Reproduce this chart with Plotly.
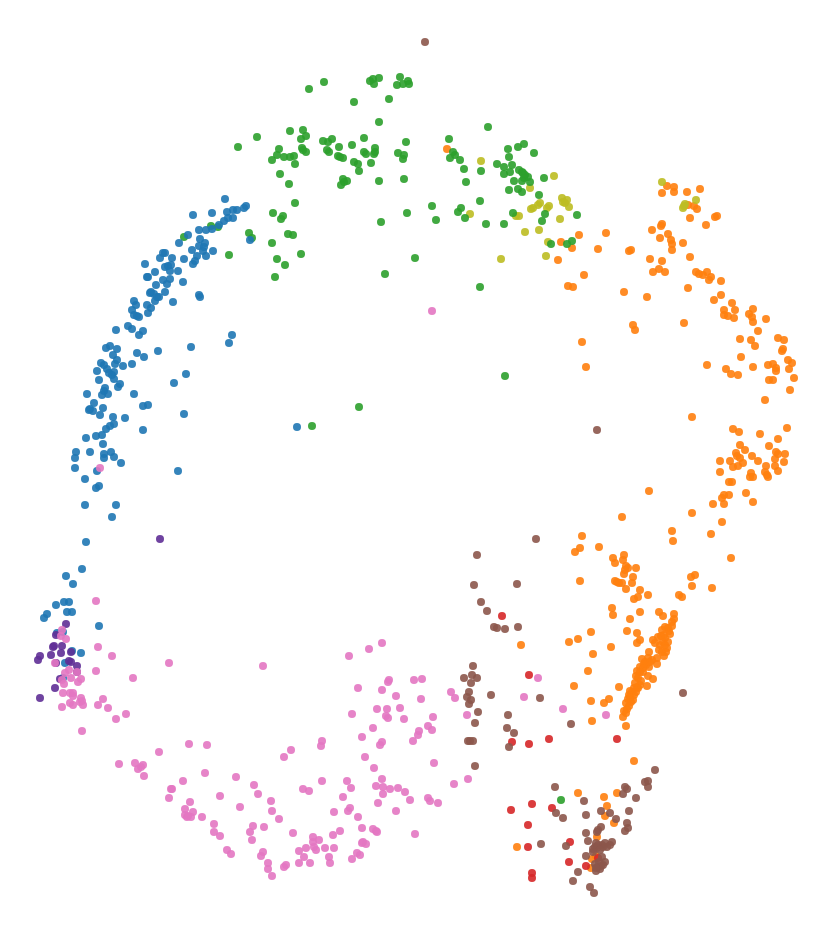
import plotly.graph_objects as go

# embedding values per cluster as (x, y)
blue = [(225,199),(193,215),(212,213),(246,206),(244,208),(237,210),(233,210),(227,212),(233,218),(228,218),(224,221),(219,225),(212,229),(206,230),(199,230),(188,235),(250,240),(200,239),(179,243),(205,243),(199,246),(204,247),(192,250),(203,251),(213,251),(206,256),(197,256),(163,253),(165,253),(160,258),(172,258),(184,259),(195,261),(193,264),(145,264),(165,267),(168,266),(171,265),(170,271),(178,271),(155,272),(147,277),(148,277),(163,280),(170,279),(167,284),(183,282),(156,285),(165,292),(151,292),(150,293),(154,294),(157,297),(159,297),(155,301),(173,302),(199,295),(200,297),(134,301),(136,305),(147,305),(151,308),(132,310),(148,313),(134,315),(137,316),(139,317),(116,330),(128,326),(132,329),(143,331),(139,335),(232,335),(229,343),(191,347),(110,346),(106,348),(117,349),(137,353),(144,357),(158,351),(113,355),(117,360),(115,364),(101,363),(104,365),(132,364),(123,366),(97,371),(107,369),(109,373),(114,372),(112,375),(114,379),(99,380),(186,374),(174,383),(120,384),(118,387),(105,388),(104,391),(108,394),(102,395),(87,394),(134,394),(94,403),(103,408),(90,409),(93,411),(89,410),(100,415),(143,406),(148,405),(184,414),(113,417),(125,418),(114,424),(110,426),(106,429),(143,430),(86,438),(96,436),(102,435),(103,444),(76,452),(90,452),(75,458),(104,454),(111,452),(114,457),(104,458),(75,468),(97,471),(121,463),(178,471),(85,479),(99,486),(96,488),(85,505),(116,505),(112,517),(86,542),(82,569),(66,576),(73,584),(56,605),(64,602),(69,602),(67,612),(72,612),(47,614),(44,618),(99,626),(57,633),(63,632),(72,651),(81,653),(65,663),(63,678),(297,427)]

orange = [(447,149),(561,242),(579,235),(606,233),(572,248),(598,249),(629,251),(558,260),(584,275),(568,286),(573,287),(624,292),(667,186),(674,187),(674,192),(662,193),(687,192),(700,189),(688,205),(694,206),(697,209),(690,218),(717,216),(715,217),(706,225),(662,224),(661,226),(652,230),(668,234),(660,238),(671,240),(672,244),(683,243),(672,250),(631,250),(690,257),(650,259),(662,261),(659,269),(653,272),(665,272),(696,272),(699,274),(703,275),(707,272),(711,277),(709,280),(721,281),(688,288),(647,297),(721,295),(714,300),(732,303),(735,310),(724,310),(724,315),(728,316),(734,318),(753,309),(749,314),(752,317),(753,322),(766,319),(684,323),(633,325),(635,330),(758,331),(740,339),(751,340),(755,346),(778,338),(784,340),(783,349),(782,351),(741,357),(788,360),(792,363),(707,365),(753,367),(726,369),(731,374),(738,375),(768,365),(773,364),(776,368),(776,371),(789,369),(794,378),(769,380),(773,380),(790,390),(765,400),(692,417),(582,342),(586,367),(733,429),(739,432),(760,434),(787,428),(778,439),(769,446),(740,445),(745,450),(776,452),(778,454),(785,454),(736,453),(752,456),(737,456),(740,458),(730,461),(720,461),(758,461),(775,459),(784,462),(743,463),(733,467),(738,466),(766,466),(775,466),(778,471),(720,472),(765,472),(767,475),(768,477),(751,473),(753,477),(750,477),(729,482),(732,482),(649,491),(746,493),(729,495),(724,495),(722,498),(753,502),(724,504),(713,504),(692,513),(622,517),(722,522),(672,531),(711,534),(673,541),(582,536),(580,548),(575,552),(599,547),(731,558),(613,558),(624,555),(615,563),(623,560),(626,566),(628,568),(636,568),(625,570),(624,574),(695,575),(691,577),(633,577),(580,581),(615,581),(617,582),(619,583),(622,583),(632,583),(692,586),(626,589),(640,590),(712,588),(648,595),(679,595),(682,597),(638,597),(634,599),(612,608),(613,615),(640,612),(659,612),(663,616),(674,614),(674,619),(672,622),(630,619),(665,627),(668,628),(662,630),(627,631),(591,632),(637,633),(669,631),(640,640),(637,643),(578,639),(569,642),(653,640),(658,637),(664,635),(665,638),(663,642),(668,642),(660,645),(665,645),(667,648),(662,652),(666,652),(611,647),(649,652),(593,654),(657,658),(642,659),(648,658),(645,662),(657,664),(640,667),(649,667),(637,671),(643,672),(588,671),(648,676),(653,679),(638,678),(574,686),(619,687),(647,686),(640,685),(637,687),(634,688),(638,688),(632,692),(636,692),(634,695),(628,699),(633,700),(631,702),(609,699),(604,703),(591,701),(629,706),(627,709),(626,713),(623,717),(592,721),(626,726),(521,645),(634,761),(578,793),(604,797),(617,793),(607,806),(605,816),(614,823),(597,837),(517,847),(596,856),(592,859),(591,868),(672,626),(670,634),(661,636),(655,643),(659,650),(664,656),(652,660),(646,665),(643,668),(640,672),(636,676),(641,681),(635,683),(630,691),(629,695),(626,703),(624,711),(630,697),(644,664),(650,662)]

olive = [(481,161),(554,176),(530,188),(562,198),(567,200),(563,202),(565,203),(569,207),(540,203),(538,205),(549,206),(547,208),(533,208),(531,209),(470,214),(519,216),(516,216),(560,219),(539,230),(525,232),(548,242),(546,256),(501,259),(662,182),(696,200),(685,204),(683,208),(684,206)]

green = [(324,82),(309,89),(370,81),(373,79),(379,78),(374,84),(400,77),(408,81),(397,85),(403,84),(409,84),(389,99),(354,102),(379,122),(488,127),(290,131),(303,130),(306,136),(301,139),(257,137),(238,147),(323,141),(328,142),(332,139),(364,138),(406,142),(449,139),(339,147),(352,145),(279,149),(302,148),(277,155),(272,160),(284,157),(290,157),(294,156),(306,152),(303,150),(295,164),(327,150),(329,152),(338,156),(340,157),(343,158),(364,152),(366,154),(375,148),(375,152),(374,154),(398,153),(404,155),(403,159),(354,162),(358,164),(371,163),(453,152),(455,155),(450,158),(460,160),(359,171),(280,174),(289,184),(343,179),(347,181),(344,182),(341,185),(379,181),(404,179),(464,169),(481,171),(466,182),(295,203),(273,213),(283,216),(281,219),(249,233),(252,238),(288,234),(293,235),(272,243),(301,254),(277,259),(285,265),(275,277),(229,255),(432,206),(407,213),(381,222),(436,220),(480,201),(461,208),(458,212),(465,218),(486,224),(415,258),(385,274),(480,287),(211,226),(218,227),(184,237),(508,149),(518,147),(524,144),(534,153),(509,157),(497,164),(512,165),(504,167),(504,174),(510,172),(519,170),(522,172),(523,173),(525,175),(528,177),(524,178),(522,181),(530,182),(514,181),(544,178),(509,190),(518,189),(522,192),(539,195),(513,213),(545,214),(577,215),(542,221),(504,224),(551,244),(572,241),(567,244),(359,407),(505,376),(312,426),(561,800)]

red = [(502,616),(529,675),(512,742),(529,744),(549,739),(617,739),(532,804),(511,810),(552,808),(528,825),(528,847),(570,842),(569,862),(586,866),(532,873),(532,878),(598,858)]

brown = [(425,42),(597,430),(683,693),(536,539),(477,555),(474,585),(517,584),(481,602),(487,611),(494,627),(497,628),(505,629),(518,627),(473,666),(464,678),(472,675),(477,678),(471,683),(469,692),(467,697),(471,700),(469,704),(491,695),(478,712),(475,723),(540,698),(508,715),(507,728),(514,733),(509,747),(468,741),(470,741),(473,741),(475,766),(571,724),(655,770),(555,787),(625,787),(627,789),(623,794),(645,782),(648,781),(648,787),(636,798),(584,801),(556,813),(563,818),(586,815),(601,811),(610,813),(629,811),(616,819),(627,823),(628,828),(625,831),(601,827),(598,830),(597,832),(586,833),(588,841),(541,844),(566,846),(612,842),(610,845),(607,847),(602,845),(603,847),(598,845),(595,847),(593,849),(597,848),(593,852),(602,857),(605,862),(586,856),(595,864),(598,867),(600,869),(596,871),(578,872),(573,881),(590,887),(594,893),(596,843),(600,850),(605,843),(599,862),(601,866),(603,865),(596,868)]

purple = [(160,539),(66,624),(56,635),(54,646),(53,647),(62,646),(61,653),(71,652),(51,655),(40,656),(38,660),(56,663),(69,661),(71,662),(77,666),(60,679),(55,688),(40,698),(77,672)]

pink = [(432,311),(100,468),(96,601),(62,630),(61,636),(66,639),(98,647),(112,656),(55,663),(169,663),(263,666),(96,671),(77,672),(69,670),(65,673),(71,678),(81,679),(78,682),(133,678),(62,680),(64,684),(63,693),(70,693),(73,693),(73,696),(81,698),(82,701),(80,702),(103,699),(83,705),(98,705),(70,703),(73,705),(62,707),(108,708),(126,714),(116,719),(82,731),(189,744),(207,745),(159,752),(119,764),(135,763),(143,765),(141,767),(138,769),(144,776),(205,773),(183,781),(172,789),(171,789),(169,798),(236,777),(254,785),(258,794),(220,796),(190,802),(271,801),(240,807),(185,809),(193,812),(272,811),(185,815),(187,817),(191,817),(188,816),(202,817),(279,819),(214,824),(253,826),(264,827),(250,832),(214,832),(220,836),(252,840),(293,833),(227,850),(231,854),(263,852),(261,856),(268,863),(268,869),(272,876),(284,757),(291,750),(286,865),(284,867),(299,851),(299,863),(382,643),(369,649),(349,656),(389,680),(388,682),(414,680),(422,679),(358,688),(382,690),(396,696),(451,692),(455,698),(421,699),(352,714),(377,709),(387,709),(400,708),(386,716),(388,718),(404,719),(433,717),(467,715),(428,726),(432,730),(419,731),(418,735),(413,741),(373,728),(362,737),(382,742),(380,745),(322,741),(321,746),(365,757),(434,763),(374,768),(382,779),(322,781),(347,781),(351,788),(376,786),(383,787),(390,789),(398,788),(405,792),(383,794),(454,784),(468,779),(303,789),(309,791),(343,797),(410,800),(428,798),(430,801),(438,803),(378,803),(350,808),(348,811),(334,812),(396,811),(358,817),(362,828),(340,831),(373,829),(376,831),(377,832),(333,835),(415,834),(313,837),(319,840),(313,842),(363,842),(362,843),(366,844),(314,847),(325,848),(334,848),(306,848),(316,850),(304,857),(357,853),(360,855),(352,859),(329,857),(310,863),(330,863),(538,678),(524,697),(563,709),(606,715)]

clusters = [
    ("orange", orange, "#ff7f0e"),
    ("olive", olive, "#bcbd22"),
    ("green", green, "#2ca02c"),
    ("blue", blue, "#1f77b4"),
    ("red", red, "#d62728"),
    ("brown", brown, "#8c564b"),
    ("purple", purple, "#5f2f96"),
    ("pink", pink, "#e377c2"),
]

fig = go.Figure()
for name, pts, color in clusters:
    fig.add_trace(go.Scatter(
        x=[p[0] for p in pts],
        y=[p[1] for p in pts],
        mode="markers",
        name=name,
        marker=dict(size=8, color=color, opacity=0.9, line=dict(width=0)),
    ))

# the page body has an 8px margin, so the plot starts at 8,8
fig.update_layout(
    width=824,
    height=920,
    margin=dict(l=0, r=0, t=0, b=0),
    paper_bgcolor="white",
    plot_bgcolor="white",
    showlegend=False,
    xaxis=dict(range=[8, 832], visible=False),
    yaxis=dict(range=[928, 8], visible=False),
)
fig.write_html("out.html")
